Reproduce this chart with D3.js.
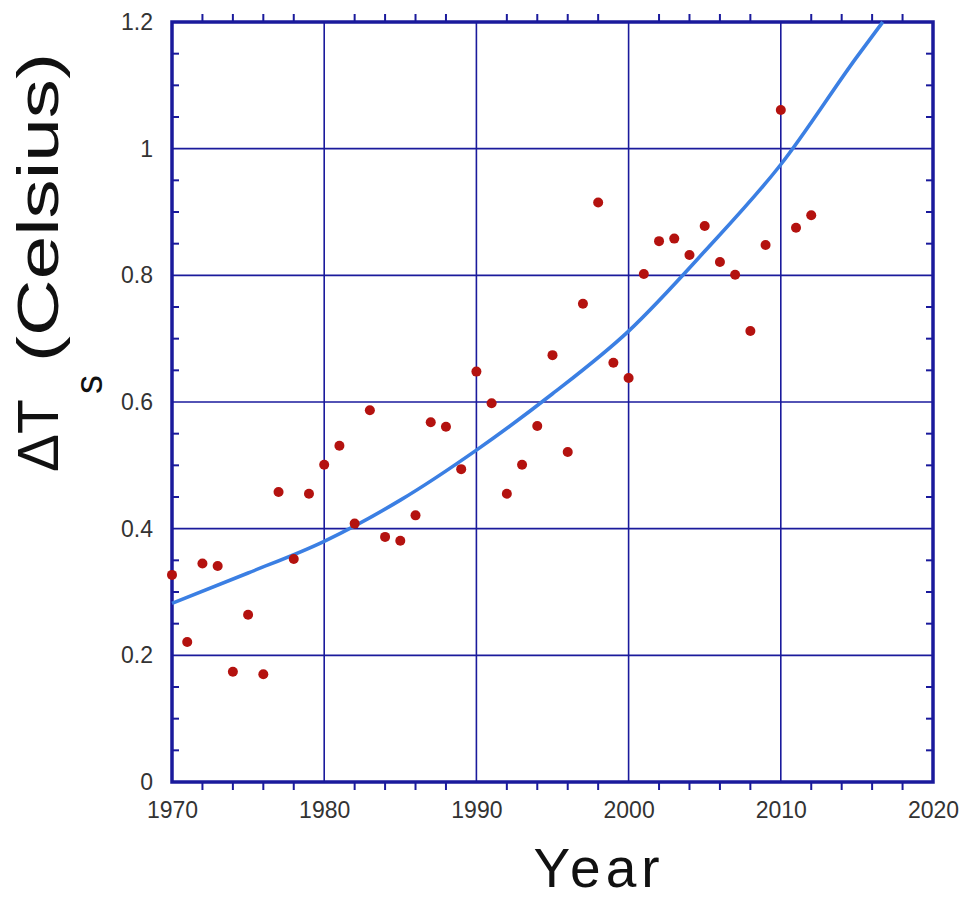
<!DOCTYPE html>
<html><head><meta charset="utf-8">
<script src="https://cdn.jsdelivr.net/npm/d3@7"></script>
<style>
body{margin:0;background:#fff}
svg{display:block}
text{font-family:"Liberation Sans",Arial,Helvetica,sans-serif}
</style>
</head><body>
<svg id="chart" width="966" height="898"></svg>
<script>
// ---- data ----
const years = [1970,1971,1972,1973,1974,1975,1976,1977,1978,1979,
               1980,1981,1982,1983,1984,1985,1986,1987,1988,1989,
               1990,1991,1992,1993,1994,1995,1996,1997,1998,1999,
               2000,2001,2002,2003,2004,2005,2006,2007,2008,2009,
               2010,2011,2012];
const anomalies = [0.327,0.221,0.345,0.341,0.174,0.264,0.170,0.458,0.352,0.455,
                   0.501,0.531,0.408,0.587,0.387,0.381,0.421,0.568,0.561,0.494,
                   0.648,0.598,0.455,0.501,0.562,0.674,0.521,0.755,0.915,0.662,
                   0.638,0.802,0.854,0.858,0.832,0.878,0.821,0.801,0.712,0.848,
                   1.061,0.875,0.895];
const fitYears  = [1970,1975,1980,1985,1990,1995,2000,2005,2010,2015,2016.7];
const fitValues = [0.282,0.330,0.380,0.445,0.524,0.613,0.712,0.838,0.975,1.145,1.2];
const xTickLabels = [1970,1980,1990,2000,2010,2020];
const yTickLabels = [0,0.2,0.4,0.6,0.8,1,1.2];

// ---- layout ----
const L=172, R=933, T=22, B=782;
const frameColor = "#1a1a9c";
const svg = d3.select("#chart");
const x = d3.scaleLinear().domain([1970,2020]).range([L,R]);
const y = d3.scaleLinear().domain([0,1.2]).range([B,T]);

// grid lines
const xGrid = xTickLabels.slice(1,-1), yGrid = yTickLabels.slice(1,-1);
svg.append("g").selectAll("line").data(xGrid).join("line")
  .attr("x1",d=>x(d)).attr("x2",d=>x(d)).attr("y1",T).attr("y2",B)
  .attr("stroke",frameColor).attr("stroke-width",1.6);
svg.append("g").selectAll("line").data(yGrid).join("line")
  .attr("y1",d=>y(d)).attr("y2",d=>y(d)).attr("x1",L).attr("x2",R)
  .attr("stroke",frameColor).attr("stroke-width",1.6);

// minor ticks
const xMinor = d3.range(1972,2020,2).filter(d=>d%10!==0);
const yMinor = d3.range(0.05,1.2,0.05).filter(d=>Math.abs(d/0.2-Math.round(d/0.2))>0.01);
const tickG = svg.append("g").attr("stroke",frameColor).attr("stroke-width",2);
tickG.selectAll(".xb").data(xMinor).join("line")
  .attr("x1",d=>x(d)).attr("x2",d=>x(d)).attr("y1",B).attr("y2",B+8);
tickG.selectAll(".xt").data(xMinor).join("line")
  .attr("x1",d=>x(d)).attr("x2",d=>x(d)).attr("y1",T).attr("y2",T-8);
tickG.selectAll(".yl").data(yMinor).join("line")
  .attr("y1",d=>y(d)).attr("y2",d=>y(d)).attr("x1",L).attr("x2",L+7);
tickG.selectAll(".yr").data(yMinor).join("line")
  .attr("y1",d=>y(d)).attr("y2",d=>y(d)).attr("x1",R).attr("x2",R-7);

// frame
svg.append("rect").attr("x",L).attr("y",T).attr("width",R-L).attr("height",B-T)
  .attr("fill","none").attr("stroke",frameColor).attr("stroke-width",3.5);

// fit curve
const line = d3.line().x((d,i)=>x(fitYears[i])).y(d=>y(d)).curve(d3.curveMonotoneX);
svg.append("path").datum(fitValues).attr("d",line)
  .attr("fill","none").attr("stroke","#3b7fe3").attr("stroke-width",3.6);

// points
svg.append("g").selectAll("circle").data(anomalies).join("circle")
  .attr("cx",(d,i)=>x(years[i])).attr("cy",d=>y(d)).attr("r",5)
  .attr("fill","#b4120f");

// axis labels via d3 axes
const xAxis = d3.axisBottom(x).tickValues(xTickLabels).tickSize(0).tickPadding(20).tickFormat(d3.format("d"));
const gx = svg.append("g").attr("transform",`translate(0,${B})`).call(xAxis);
gx.select(".domain").remove();
gx.selectAll("text").attr("font-size",23).attr("fill","#333").style("font-family","'Liberation Sans',Arial,sans-serif");

const yAxis = d3.axisLeft(y).tickValues(yTickLabels).tickSize(0).tickPadding(19).tickFormat(d=>d3.format("")(d));
const gy = svg.append("g").attr("transform",`translate(${L},0)`).call(yAxis);
gy.select(".domain").remove();
gy.selectAll("text").attr("font-size",23).attr("fill","#333").style("font-family","'Liberation Sans',Arial,sans-serif");

// axis titles
svg.append("text").attr("x",599).attr("y",887).attr("text-anchor","middle")
  .attr("font-size",55).attr("fill","#111").attr("letter-spacing",5).text("Year");

const yt = svg.append("g").attr("transform","translate(58,0) rotate(-90)").attr("fill","#111");
yt.append("text").attr("x",-472).attr("y",0).attr("font-size",57).text("ΔT");
yt.append("text").attr("x",-394).attr("y",44).attr("font-size",38).text("s");
yt.append("text").attr("x",-362).attr("y",0).attr("font-size",57)
  .attr("textLength",309).attr("lengthAdjust","spacingAndGlyphs").text("(Celsius)");
</script>
</body></html>
